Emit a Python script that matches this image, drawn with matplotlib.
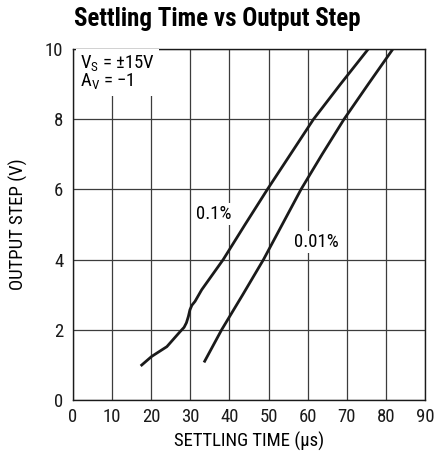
import matplotlib
matplotlib.use("Agg")
import matplotlib.pyplot as plt
from matplotlib import font_manager

installed = {f.name for f in font_manager.fontManager.ttflist}
candidates = ['Roboto Condensed', 'Archivo Narrow', 'PT Sans Narrow', 'Liberation Sans Narrow',
              'Asap Condensed', 'Barlow Condensed', 'Liberation Sans']
FONT = next((c for c in candidates if c in installed), 'DejaVu Sans')
plt.rcParams['font.family'] = [FONT, 'DejaVu Sans']
plt.rcParams['mathtext.fontset'] = 'custom'
plt.rcParams['mathtext.rm'] = FONT

# Data
x_ticks = [0, 10, 20, 30, 40, 50, 60, 70, 80, 90]
y_ticks = [0, 2, 4, 6, 8, 10]

t_01 = [17.3, 20.1, 24.0, 27.4, 28.4, 29.0, 29.5, 29.9, 30.4, 31.2, 32.9, 38.4, 44.0, 49.7,
        55.6, 61.5, 68.4, 75.5]
v_01 = [0.97, 1.24, 1.52, 1.95, 2.07, 2.20, 2.38, 2.57, 2.70, 2.81, 3.14, 4.0, 5.0, 6.0,
        7.0, 8.0, 9.0, 10.0]

t_001 = [33.5, 38.0, 43.4, 48.7, 53.5, 58.3, 63.7, 69.3, 75.5, 81.8]
v_001 = [1.07, 2.0, 3.0, 4.0, 5.0, 6.0, 7.0, 8.0, 9.0, 10.0]

FS = 13.5

fig = plt.figure(figsize=(4.35, 4.62), dpi=100)
ax = fig.add_axes([73/435, 1-400/462, 352/435, 351/462])

ax.set_xlim(0, 90)
ax.set_ylim(0, 10)
ax.set_xticks(x_ticks)
ax.set_yticks(y_ticks)
ax.tick_params(axis='x', length=0, labelsize=FS, pad=6, colors='#1a1a1a')
ax.tick_params(axis='y', length=0, labelsize=FS, pad=7, colors='#1a1a1a')
ax.grid(True, color='#3c3c3c', linewidth=0.9)
ax.set_axisbelow(True)
for s in ax.spines.values():
    s.set_color('#1a1a1a')
    s.set_linewidth(1.0)

ax.plot(t_01, v_01, color='#1a1a1a', linewidth=2.0, solid_capstyle='butt',
        solid_joinstyle='round', zorder=3)
ax.plot(t_001, v_001, color='#1a1a1a', linewidth=2.0, solid_capstyle='butt',
        solid_joinstyle='round', zorder=3)

box = dict(facecolor='white', edgecolor='none', pad=1.5)
ax.text(36.1, 5.29, '0.1%', fontsize=FS, ha='center', va='center', bbox=box, zorder=4)
ax.text(62.1, 4.51, '0.01%', fontsize=FS, ha='center', va='center', bbox=box, zorder=4)

ax.text(1.8, 9.88, 'V$_\\mathregular{S}$ = ±15V\nA$_\\mathregular{V}$ = \u22121', fontsize=FS,
        ha='left', va='top', linespacing=0.9,
        bbox=dict(facecolor='white', edgecolor='none', pad=3), zorder=4)

ax.set_xlabel('SETTLING TIME (\u03bcs)', fontsize=FS, labelpad=4)
ax.set_ylabel('OUTPUT STEP (V)', fontsize=FS, labelpad=12)

fig.text(217/435, 1-19/462, 'Settling Time vs Output Step', fontsize=18, fontweight='bold',
         ha='center', va='center')

fig.savefig('out.png', dpi=100)
